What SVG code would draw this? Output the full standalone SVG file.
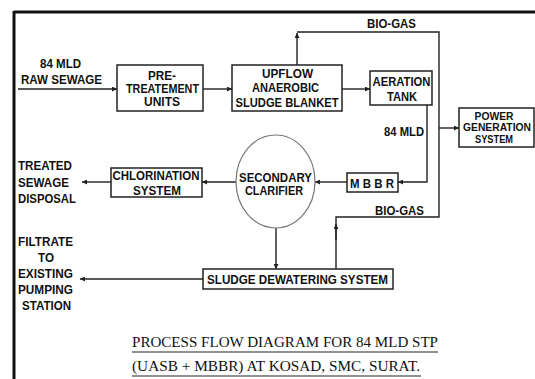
<svg xmlns="http://www.w3.org/2000/svg" width="535" height="379" viewBox="0 0 535 379">
<defs>
<style>
.box{fill:#fff;stroke:#222;stroke-width:1.5}
.ln{fill:none;stroke:#222;stroke-width:1.4}
.t{font-family:"Liberation Sans",Arial,sans-serif;font-size:12.5px;font-weight:bold;fill:#111;text-anchor:middle}
.tl{font-family:"Liberation Sans",Arial,sans-serif;font-size:12.5px;font-weight:bold;fill:#111;text-anchor:start}
.ts{font-family:"Liberation Sans",Arial,sans-serif;font-size:11.5px;font-weight:bold;fill:#111;text-anchor:middle}
.title{font-family:"Liberation Serif","Times New Roman",serif;font-size:15px;fill:#111;text-anchor:start}
</style>
<marker id="ah" viewBox="0 0 10 10" refX="10" refY="5" markerWidth="7" markerHeight="5" markerUnits="userSpaceOnUse" orient="auto">
<path d="M0,0 L10,5 L0,10 Z" fill="#222"/>
</marker>
</defs>
<rect width="535" height="379" fill="#fff"/>
<g id="frame">
<line x1="14" y1="12" x2="535" y2="12" stroke="#111" stroke-width="3"/>
<line x1="14" y1="11" x2="14" y2="379" stroke="#111" stroke-width="3"/>
</g>
<g id="connectors">
<line class="ln" x1="18" y1="89" x2="117" y2="89" marker-end="url(#ah)"/>
<line class="ln" x1="203" y1="89" x2="232" y2="89" marker-end="url(#ah)"/>
<line class="ln" x1="342" y1="89" x2="370" y2="89" marker-end="url(#ah)"/>
<line class="ln" x1="297" y1="65" x2="297" y2="33" marker-end="url(#ah)"/>
<polyline class="ln" points="297,32 439,32 439,217 336,217 336,269"/>
<line class="ln" x1="336" y1="240" x2="336" y2="224" marker-end="url(#ah)"/>
<line class="ln" x1="439" y1="128" x2="459" y2="128" marker-end="url(#ah)"/>
<polyline class="ln" points="427,105 427,182 398,182" marker-end="url(#ah)"/>
<line class="ln" x1="347" y1="182" x2="315" y2="182" marker-end="url(#ah)"/>
<line class="ln" x1="236" y1="182" x2="202" y2="182" marker-end="url(#ah)"/>
<line class="ln" x1="111" y1="182" x2="82" y2="182" marker-end="url(#ah)"/>
<line class="ln" x1="276" y1="228" x2="276" y2="269" marker-end="url(#ah)"/>
<line class="ln" x1="203" y1="279" x2="80" y2="279" marker-end="url(#ah)"/>
</g>
<g id="raw-sewage">
<text class="t" x="60.5" y="68" textLength="41" lengthAdjust="spacingAndGlyphs">84 MLD</text>
<text class="t" x="61.5" y="84" textLength="81" lengthAdjust="spacingAndGlyphs">RAW SEWAGE</text>
</g>
<g id="pre-treatment">
<rect class="box" x="117" y="65" width="86" height="46"/>
<text class="t" x="162" y="80" textLength="28" lengthAdjust="spacingAndGlyphs">PRE-</text>
<text class="t" x="162.5" y="93" textLength="73" lengthAdjust="spacingAndGlyphs">TREATEMENT</text>
<text class="t" x="162" y="106" textLength="36" lengthAdjust="spacingAndGlyphs">UNITS</text>
</g>
<g id="uasb">
<rect class="box" x="232" y="65" width="110" height="46"/>
<text class="t" x="287.5" y="78" textLength="51" lengthAdjust="spacingAndGlyphs">UPFLOW</text>
<text class="t" x="285.5" y="92" textLength="67" lengthAdjust="spacingAndGlyphs">ANAEROBIC</text>
<text class="t" x="287" y="107" textLength="103" lengthAdjust="spacingAndGlyphs">SLUDGE BLANKET</text>
</g>
<g id="biogas-top">
<text class="t" x="391.5" y="28" textLength="49" lengthAdjust="spacingAndGlyphs">BIO-GAS</text>
</g>
<g id="aeration-tank">
<rect class="box" x="370" y="71" width="62" height="34"/>
<text class="t" x="401.5" y="86" textLength="58" lengthAdjust="spacingAndGlyphs">AERATION</text>
<text class="t" x="402" y="101" textLength="30" lengthAdjust="spacingAndGlyphs">TANK</text>
</g>
<g id="flow-84">
<text class="t" x="404" y="136" textLength="40" lengthAdjust="spacingAndGlyphs">84 MLD</text>
</g>
<g id="power-generation">
<rect class="box" x="459" y="108" width="75" height="39"/>
<text class="ts" x="494" y="120" textLength="39" lengthAdjust="spacingAndGlyphs">POWER</text>
<text class="ts" x="497" y="131" textLength="68" lengthAdjust="spacingAndGlyphs" style="font-size:10.5px">GENERATION</text>
<text class="ts" x="494" y="142.5" textLength="38" lengthAdjust="spacingAndGlyphs">SYSTEM</text>
</g>
<g id="mbbr">
<rect class="box" x="347" y="173" width="51" height="19"/>
<text class="t" x="372" y="188" textLength="44" lengthAdjust="spacingAndGlyphs">M B B R</text>
</g>
<g id="secondary-clarifier">
<ellipse cx="275.5" cy="181.5" rx="39.5" ry="46.5" fill="#fff" stroke="#777" stroke-width="1.2"/>
<text class="t" x="275.5" y="182" textLength="73" lengthAdjust="spacingAndGlyphs">SECONDARY</text>
<text class="t" x="274" y="195" textLength="58" lengthAdjust="spacingAndGlyphs">CLARIFIER</text>
</g>
<g id="chlorination">
<rect class="box" x="111" y="168" width="91" height="29"/>
<text class="t" x="156" y="180" textLength="87" lengthAdjust="spacingAndGlyphs">CHLORINATION</text>
<text class="t" x="157" y="195" textLength="48" lengthAdjust="spacingAndGlyphs">SYSTEM</text>
</g>
<g id="treated-sewage">
<text class="tl" x="18" y="170" textLength="54" lengthAdjust="spacingAndGlyphs">TREATED</text>
<text class="tl" x="18" y="187" textLength="51" lengthAdjust="spacingAndGlyphs">SEWAGE</text>
<text class="tl" x="18" y="203" textLength="58" lengthAdjust="spacingAndGlyphs">DISPOSAL</text>
</g>
<g id="biogas-bottom">
<text class="t" x="399.5" y="215" textLength="49" lengthAdjust="spacingAndGlyphs">BIO-GAS</text>
</g>
<g id="sludge-dewatering">
<rect class="box" x="203" y="269" width="190" height="20"/>
<text class="t" x="297.5" y="284" textLength="181" lengthAdjust="spacingAndGlyphs">SLUDGE DEWATERING SYSTEM</text>
</g>
<g id="filtrate">
<text class="t" x="45.5" y="246" textLength="55" lengthAdjust="spacingAndGlyphs">FILTRATE</text>
<text class="t" x="46" y="262" textLength="16" lengthAdjust="spacingAndGlyphs">TO</text>
<text class="t" x="45.5" y="278" textLength="55" lengthAdjust="spacingAndGlyphs">EXISTING</text>
<text class="t" x="45.5" y="294" textLength="55" lengthAdjust="spacingAndGlyphs">PUMPING</text>
<text class="t" x="46.5" y="310" textLength="49" lengthAdjust="spacingAndGlyphs">STATION</text>
</g>
<g id="title">
<text class="title" x="132" y="347" textLength="306" lengthAdjust="spacingAndGlyphs">PROCESS FLOW DIAGRAM FOR 84 MLD STP</text>
<line x1="132" y1="352" x2="438" y2="352" stroke="#222" stroke-width="1"/>
<text class="title" x="132" y="371" textLength="288" lengthAdjust="spacingAndGlyphs">(UASB + MBBR) AT KOSAD, SMC, SURAT.</text>
<line x1="132" y1="376" x2="421" y2="376" stroke="#222" stroke-width="1"/>
</g>
</svg>
